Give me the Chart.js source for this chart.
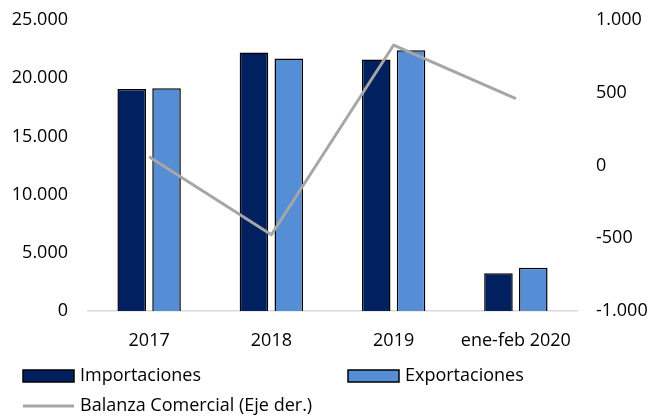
<!DOCTYPE html>
<html>
<head>
<meta charset="utf-8">
<script src="https://cdn.jsdelivr.net/npm/chart.js@4/dist/chart.umd.min.js"></script>
<style>
  html, body { margin: 0; padding: 0; background: #fff; }
  #wrap { width: 654px; height: 418px; position: relative; }
</style>
</head>
<body>
<div id="wrap"><canvas id="myChart" width="654" height="418"></canvas></div>
<script>
// datos del grafico
const categorias = ["2017", "2018", "2019", "ene-feb 2020"];
const importaciones = [19080, 22210, 21610, 3250];
const exportaciones = [19140, 21700, 22410, 3710];
const balanza = [60, -476, 828, 460];
const ticksIzq = [0, 5000, 10000, 15000, 20000, 25000];
const ticksDer = [-1000, -500, 0, 500, 1000];

const fuente = "'Open Sans', 'Noto Sans', sans-serif";
Chart.defaults.font.family = fuente;
Chart.defaults.font.size = 18;
Chart.defaults.color = '#000';

function fmt(v) {
  var s = Math.abs(v).toString().replace(/\B(?=(\d{3})+(?!\d))/g, '.');
  return (v < 0 ? '-' : '') + s;
}

// leyenda dibujada a mano (dos columnas, como el original)
const leyenda = {
  id: 'leyenda',
  afterDraw(chart) {
    const ctx = chart.ctx;
    const ds = chart.data.datasets;
    ctx.save();
    ctx.font = '18px ' + fuente;
    ctx.textBaseline = 'middle';
    const items = [
      { d: ds[0], x: 23, y: 376, tipo: 'box' },
      { d: ds[1], x: 348, y: 376, tipo: 'box' },
      { d: ds[2], x: 23, y: 406, tipo: 'line' }
    ];
    items.forEach(function (it) {
      if (it.tipo === 'box') {
        ctx.fillStyle = it.d.backgroundColor;
        ctx.fillRect(it.x, it.y - 6, 51, 12);
        ctx.strokeStyle = '#000';
        ctx.lineWidth = 1.5;
        ctx.strokeRect(it.x, it.y - 6, 51, 12);
      } else {
        ctx.strokeStyle = it.d.borderColor;
        ctx.lineWidth = 3;
        ctx.beginPath();
        ctx.moveTo(it.x, it.y);
        ctx.lineTo(it.x + 51, it.y);
        ctx.stroke();
      }
      ctx.fillStyle = '#000';
      ctx.fillText(it.d.label, it.x + 57, it.y);
    });
    ctx.restore();
  }
};

// ancho fijo de los ejes y margen superior fijo
function fijarEje(ancho) {
  return function (s) {
    s.width = ancho;
    s.paddingTop = 20;
    s.paddingBottom = 0;
  };
}

var config = {
  data: {
    labels: categorias,
    datasets: [{
      type: 'bar',
      label: 'Importaciones',
      data: importaciones,
      backgroundColor: '#002060',
      borderColor: '#000',
      borderWidth: 1.5,
      yAxisID: 'y',
      order: 2,
      categoryPercentage: 0.57,
      barPercentage: 0.82
    }, {
      type: 'bar',
      label: 'Exportaciones',
      data: exportaciones,
      backgroundColor: '#558ED5',
      borderColor: '#000',
      borderWidth: 1.5,
      yAxisID: 'y',
      order: 2,
      categoryPercentage: 0.57,
      barPercentage: 0.82
    }, {
      type: 'line',
      label: 'Balanza Comercial (Eje der.)',
      data: balanza,
      borderColor: '#A6A6A6',
      backgroundColor: '#A6A6A6',
      borderWidth: 3,
      pointRadius: 0,
      tension: 0,
      yAxisID: 'y1',
      order: 1
    }]
  },
  options: {
    responsive: false,
    animation: false,
    layout: { padding: { top: 0, bottom: 67, left: 0, right: 0 } },
    plugins: { legend: { display: false }, tooltip: { enabled: false } },
    scales: {
      x: {
        grid: { display: false },
        border: { color: '#D9D9D9', width: 1.5 },
        ticks: { padding: 11 },
        afterFit: function (s) { s.height = 40; }
      },
      y: {
        position: 'left',
        min: 0, max: 25000,
        afterBuildTicks: function (s) { s.ticks = ticksIzq.map(function (v) { return { value: v }; }); },
        grid: { display: false },
        border: { display: false },
        ticks: { padding: 12, callback: function (v) { return fmt(v); } },
        afterFit: fijarEje(88)
      },
      y1: {
        position: 'right',
        min: -1000, max: 1000,
        afterBuildTicks: function (s) { s.ticks = ticksDer.map(function (v) { return { value: v }; }); },
        grid: { display: false },
        border: { display: false },
        ticks: { padding: 11, callback: function (v) { return fmt(v); } },
        afterFit: fijarEje(77)
      }
    }
  },
  plugins: [leyenda]
};

var myChart = new Chart(document.getElementById('myChart'), config);
</script>
</body>
</html>
